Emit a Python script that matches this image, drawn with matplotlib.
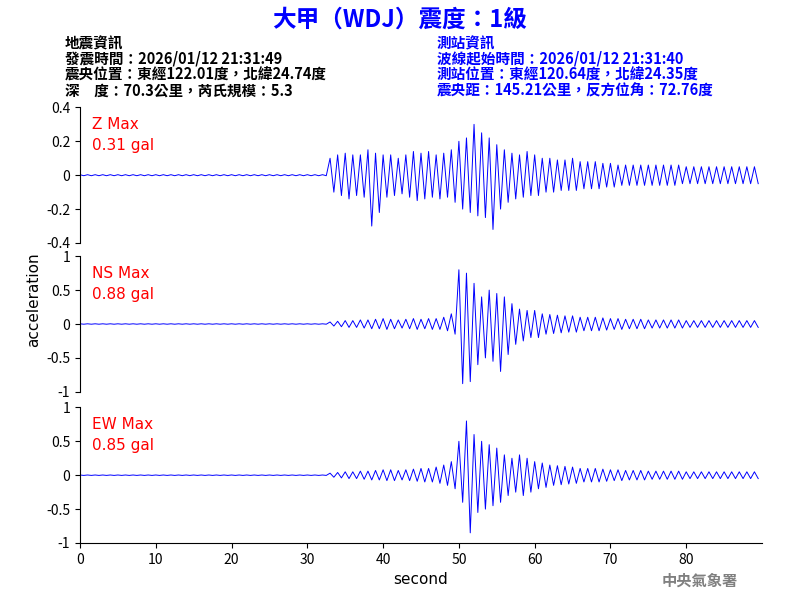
import matplotlib
matplotlib.use("Agg")
import matplotlib.pyplot as plt
import numpy as np

plt.rcParams["font.family"] = ["Noto Sans CJK TC", "DejaVu Sans"]

# per-second envelopes (max, min), seconds 0..89
quiet = [0.003] * 33
quiet_lo = [-0.003] * 33
z_max = quiet + [0.10, 0.12, 0.13, 0.12, 0.12, 0.15, 0.13, 0.12, 0.12, 0.10,
                 0.12, 0.14, 0.13, 0.14, 0.12, 0.13, 0.15, 0.20, 0.22, 0.30,
                 0.25, 0.22, 0.18, 0.15, 0.13, 0.12, 0.14, 0.12, 0.10, 0.10,
                 0.09, 0.09, 0.10, 0.08, 0.08, 0.08, 0.07, 0.07, 0.06, 0.06,
                 0.06, 0.06, 0.06, 0.06, 0.06, 0.06, 0.06, 0.05, 0.05, 0.05,
                 0.05, 0.05, 0.05, 0.05, 0.05, 0.05, 0.05]
z_min = quiet_lo + [-0.10, -0.12, -0.14, -0.12, -0.13, -0.30, -0.22, -0.13, -0.12, -0.11,
                    -0.13, -0.15, -0.14, -0.13, -0.14, -0.13, -0.16, -0.20, -0.22, -0.24,
                    -0.25, -0.32, -0.20, -0.16, -0.14, -0.13, -0.12, -0.12, -0.10, -0.10,
                    -0.09, -0.09, -0.09, -0.08, -0.08, -0.08, -0.07, -0.07, -0.06, -0.06,
                    -0.06, -0.06, -0.06, -0.06, -0.06, -0.06, -0.05, -0.05, -0.05, -0.05,
                    -0.05, -0.05, -0.05, -0.05, -0.05, -0.05, -0.05]
ns_max = quiet + [0.03, 0.04, 0.05, 0.05, 0.06, 0.06, 0.07, 0.08, 0.07, 0.06,
                  0.07, 0.08, 0.07, 0.08, 0.08, 0.10, 0.15, 0.80, 0.75, 0.60,
                  0.40, 0.50, 0.45, 0.40, 0.30, 0.22, 0.20, 0.20, 0.15, 0.14,
                  0.13, 0.12, 0.12, 0.10, 0.10, 0.10, 0.09, 0.08, 0.08, 0.07,
                  0.07, 0.07, 0.06, 0.06, 0.06, 0.06, 0.06, 0.05, 0.05, 0.05,
                  0.05, 0.05, 0.05, 0.05, 0.05, 0.05, 0.05]
ns_min = quiet_lo + [-0.03, -0.04, -0.05, -0.05, -0.06, -0.07, -0.07, -0.08, -0.07, -0.06,
                     -0.07, -0.08, -0.07, -0.08, -0.08, -0.10, -0.15, -0.88, -0.85, -0.60,
                     -0.50, -0.55, -0.70, -0.45, -0.30, -0.25, -0.20, -0.20, -0.15, -0.14,
                     -0.13, -0.12, -0.12, -0.10, -0.10, -0.10, -0.09, -0.08, -0.08, -0.07,
                     -0.07, -0.07, -0.06, -0.06, -0.06, -0.06, -0.06, -0.05, -0.05, -0.05,
                     -0.05, -0.05, -0.05, -0.05, -0.05, -0.05, -0.05]
ew_max = quiet + [0.03, 0.04, 0.05, 0.05, 0.06, 0.06, 0.07, 0.08, 0.08, 0.07,
                  0.08, 0.09, 0.10, 0.10, 0.12, 0.15, 0.20, 0.50, 0.80, 0.60,
                  0.50, 0.45, 0.40, 0.30, 0.25, 0.30, 0.25, 0.20, 0.18, 0.15,
                  0.14, 0.13, 0.12, 0.10, 0.10, 0.10, 0.09, 0.08, 0.08, 0.07,
                  0.07, 0.07, 0.06, 0.06, 0.06, 0.06, 0.06, 0.05, 0.05, 0.05,
                  0.05, 0.05, 0.05, 0.05, 0.05, 0.05, 0.05]
ew_min = quiet_lo + [-0.03, -0.04, -0.05, -0.05, -0.06, -0.07, -0.07, -0.08, -0.08, -0.07,
                     -0.08, -0.09, -0.10, -0.10, -0.12, -0.15, -0.20, -0.40, -0.85, -0.55,
                     -0.50, -0.45, -0.40, -0.30, -0.25, -0.30, -0.25, -0.20, -0.18, -0.15,
                     -0.14, -0.13, -0.12, -0.10, -0.10, -0.10, -0.09, -0.08, -0.08, -0.07,
                     -0.07, -0.07, -0.06, -0.06, -0.06, -0.06, -0.06, -0.05, -0.05, -0.05,
                     -0.05, -0.05, -0.05, -0.05, -0.05, -0.05, -0.05]
secs = np.arange(len(z_max))

panels = [
    ("Z Max\n0.31 gal", z_max, z_min, [0.4, 0.2, 0, -0.2, -0.4], ["0.4", "0.2", "0", "-0.2", "-0.4"], 0.595),
    ("NS Max\n0.88 gal", ns_max, ns_min, [1, 0.5, 0, -0.5, -1], ["1", "0.5", "0", "-0.5", "-1"], 0.347),
    ("EW Max\n0.85 gal", ew_max, ew_min, [1, 0.5, 0, -0.5, -1], ["1", "0.5", "0", "-0.5", "-1"], 0.095),
]

fig = plt.figure(figsize=(8, 6), dpi=100)
for i, (lab, hi, lo, ticks, tlabels, bottom) in enumerate(panels):
    ax = fig.add_axes([0.1, bottom, 0.8525, 0.226])
    # trace swings from each second's peak to its trough
    t = np.column_stack([secs, secs + 0.5]).ravel()
    v = np.column_stack([hi, lo]).ravel()
    ax.plot(t, v, color="blue", lw=0.7)
    ax.set_xlim(0, 90)
    ax.set_ylim(ticks[-1], ticks[0])
    ax.set_yticks(ticks)
    ax.set_yticklabels(tlabels, fontsize=10)
    for s in ["top", "right"]:
        ax.spines[s].set_visible(False)
    ax.text(0.018, 0.93, lab, transform=ax.transAxes, color="red", fontsize=11,
            va="top", ha="left", linespacing=1.5, family="DejaVu Sans")
    if i < 2:
        ax.spines["bottom"].set_visible(False)
        ax.set_xticks([])
    else:
        ax.set_xticks([0, 10, 20, 30, 40, 50, 60, 70, 80])
        ax.tick_params(labelsize=10)
        ax.set_xlabel("second", fontsize=11, family="DejaVu Sans")

fig.text(0.042, 0.5, "acceleration", rotation=90, va="center", ha="center", fontsize=11,
         family="DejaVu Sans")
fig.text(0.5, 0.967, "大甲（WDJ）震度：1級", color="blue", fontsize=17, fontweight="bold",
         ha="center", va="center")
left = ["地震資訊", "發震時間：2026/01/12 21:31:49", "震央位置：東經122.01度，北緯24.74度",
        "深　度：70.3公里，芮氏規模：5.3"]
right = ["測站資訊", "波線起始時間：2026/01/12 21:31:40", "測站位置：東經120.64度，北緯24.35度",
         "震央距：145.21公里，反方位角：72.76度"]
for k, (a, b) in enumerate(zip(left, right)):
    y = 1 - (43 + 16 * k) / 600
    fig.text(0.081, y, a, fontsize=10.5, fontweight="bold", va="center")
    fig.text(0.546, y, b, fontsize=10.5, fontweight="bold", va="center", color="blue")
fig.text(0.875, 0.032, "中央氣象署", color="gray", fontsize=11, fontweight="bold",
         ha="center", va="center")
fig.savefig("out.png", dpi=100)
